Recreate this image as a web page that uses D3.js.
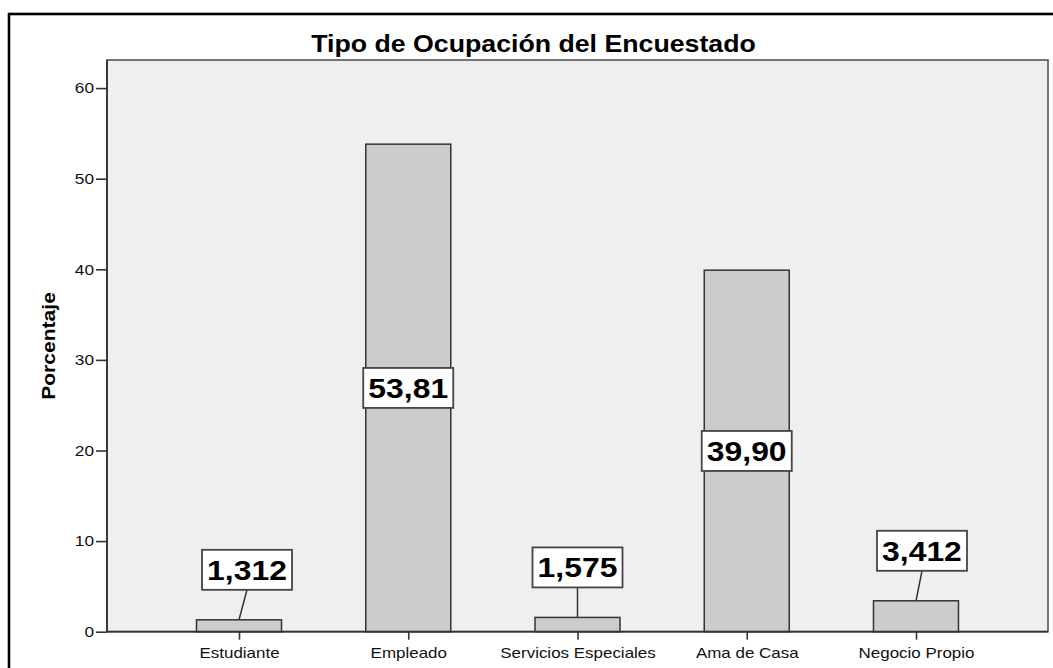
<!DOCTYPE html>
<html>
<head>
<meta charset="utf-8">
<script src="https://cdn.jsdelivr.net/npm/d3@7"></script>
<style>
html,body{margin:0;padding:0;background:#fff;}
svg{display:block;}
text{font-family:"Liberation Sans",Arial,sans-serif;}
</style>
</head>
<body>
<svg id="chart" width="1053" height="668"></svg>
<script>
const title = "Tipo de Ocupación del Encuestado";
const yLabel = "Porcentaje";
const categories = ["Estudiante","Empleado","Servicios Especiales","Ama de Casa","Negocio Propio"];
const values = [1.312, 53.81, 1.575, 39.90, 3.412];
const valueLabels = ["1,312","53,81","1,575","39,90","3,412"];
const yTicks = [0,10,20,30,40,50,60];

const svg = d3.select("#chart");
const W = 1053, H = 668;
const plot = {left:107, top:60, right:1048, bottom:631.7};

// text horizontal stretch helper (reference rendering is slightly wide)
function stretch(sel, k){
  sel.each(function(){
    const len = this.getComputedTextLength();
    d3.select(this).attr("textLength", len*k).attr("lengthAdjust","spacingAndGlyphs");
  });
}

// outer frame
svg.append("rect").attr("x",9).attr("y",14).attr("width",W+10).attr("height",H+10)
  .attr("fill","#fff").attr("stroke","#000").attr("stroke-width",2.6);

const y = d3.scaleLinear().domain([0, 63.1]).range([plot.bottom, plot.top]);
const x = d3.scalePoint().domain(categories).range([plot.left, plot.right]).padding(0.78);
const barW = 85;

// plot background
svg.append("rect").attr("x",plot.left).attr("y",plot.top)
  .attr("width",plot.right-plot.left).attr("height",plot.bottom-plot.top)
  .attr("fill","#efefef").attr("stroke","#555").attr("stroke-width",1.6);

// bars
svg.append("g").selectAll("rect").data(values).join("rect")
  .attr("x",(d,i)=>x(categories[i])-barW/2)
  .attr("y",d=>y(d))
  .attr("width",barW)
  .attr("height",d=>y(0)-y(d))
  .attr("fill","#cccccc").attr("stroke","#333").attr("stroke-width",1.5);

// y axis
const yAxis = svg.append("g").attr("transform",`translate(${plot.left},0)`)
  .call(d3.axisLeft(y).tickValues(yTicks).tickSize(11).tickPadding(2).tickFormat(d3.format("d")));
yAxis.select(".domain").attr("stroke","#333").attr("stroke-width",1.8).attr("d",`M0,${plot.top}V${plot.bottom}`);
yAxis.selectAll(".tick line").attr("stroke","#333").attr("stroke-width",1.6);
yAxis.selectAll(".tick text").attr("font-size",15).attr("fill","#111")
  .attr("font-family","Liberation Sans, Arial, sans-serif");
stretch(yAxis.selectAll(".tick text"),1.15);

// x axis
const xAxis = svg.append("g").attr("transform",`translate(0,${plot.bottom})`)
  .call(d3.axisBottom(x).tickSize(8).tickPadding(8));
xAxis.select(".domain").attr("stroke","#333").attr("stroke-width",1.8).attr("d",`M${plot.left},0H${plot.right}`);
xAxis.selectAll(".tick line").attr("stroke","#333").attr("stroke-width",1.6);
xAxis.selectAll(".tick text").attr("font-size",15).attr("fill","#111")
  .attr("font-family","Liberation Sans, Arial, sans-serif");
stretch(xAxis.selectAll(".tick text"),1.13);

// title
const t = svg.append("text").attr("x",(plot.left+plot.right)/2-44).attr("y",52)
  .attr("text-anchor","middle").attr("font-size",24.5).attr("font-weight","bold").attr("fill","#000")
  .text(title);
stretch(t,1.09);

// y label
const yl = svg.append("text").attr("transform","translate(55,346) rotate(-90)")
  .attr("text-anchor","middle").attr("font-size",18).attr("font-weight","bold").attr("fill","#000")
  .text(yLabel);
stretch(yl,1.17);

// value labels
const boxW = 90, boxH = 40;
const calloutShift = {"Estudiante":8,"Servicios Especiales":0,"Negocio Propio":6};
const lab = svg.append("g");
values.forEach((v,i)=>{
  const c = categories[i];
  const cx = x(c);
  const inside = (y(0)-y(v)) > boxH*2;
  let bx, by;
  if (inside){
    bx = cx; by = y(v/2);
  } else {
    bx = cx + (calloutShift[c]||0);
    by = y(v) - 30 - boxH/2;
    lab.append("line").attr("x1",cx).attr("y1",y(v)).attr("x2",bx).attr("y2",by+boxH/2)
      .attr("stroke","#333").attr("stroke-width",1.5);
  }
  lab.append("rect").attr("x",bx-boxW/2).attr("y",by-boxH/2).attr("width",boxW).attr("height",boxH)
    .attr("fill","#fff").attr("stroke","#444").attr("stroke-width",1.8);
  const tt = lab.append("text").attr("x",bx).attr("y",by+10).attr("text-anchor","middle")
    .attr("font-size",27).attr("font-weight","bold").attr("fill","#000").text(valueLabels[i]);
  stretch(tt,1.18);
});
</script>
</body>
</html>
